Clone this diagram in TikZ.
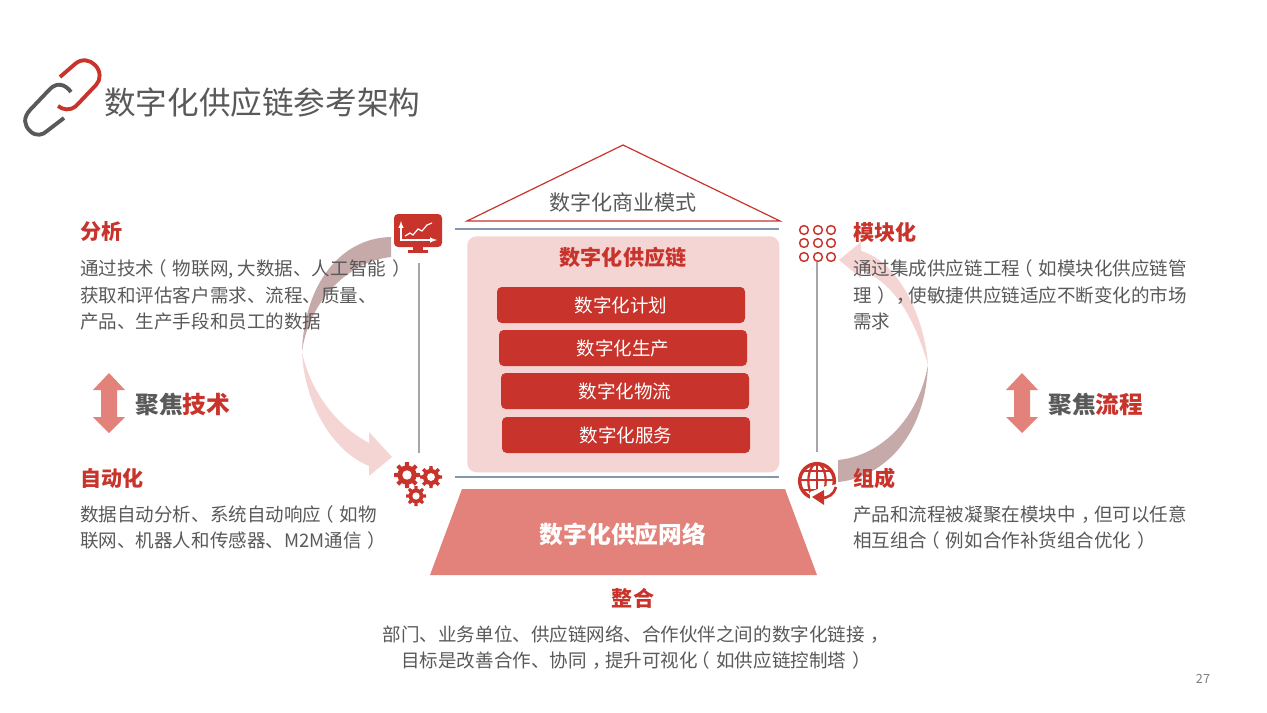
\documentclass[tikz,border=0pt]{standalone}
\usepackage{fontspec}
\setmainfont{Noto Sans CJK SC}
\usetikzlibrary{calc,positioning,arrows}
\definecolor{dred}{RGB}{200, 52, 43}
\definecolor{lred}{RGB}{245, 213, 212}
\definecolor{mred}{RGB}{226, 130, 122}
\definecolor{drose}{RGB}{198, 169, 169}
\definecolor{dgrey}{RGB}{89, 89, 89}
\definecolor{sepblue}{RGB}{132, 151, 176}
\definecolor{sepgrey}{RGB}{166, 166, 166}
\tikzstyle{heading} = [anchor=west, inner sep=0pt, text=dred, font=\fontsize{15.8pt}{19pt}\selectfont\bfseries]
\tikzstyle{bodytext} = [anchor=west, inner sep=0pt, text=dgrey, align=left, font=\fontsize{13.9pt}{19.9pt}\selectfont]
\tikzstyle{focus} = [anchor=west, inner sep=0pt, text=dgrey, font=\fontsize{17.8pt}{21pt}\selectfont\bfseries]
\tikzstyle{layer} = [fill=dred, rounded corners=3.5pt, inner sep=0pt, minimum width=186pt, minimum height=27pt,
  text=white, font=\fontsize{13.9pt}{17pt}\selectfont]
\tikzstyle{sep} = [draw=sepblue, line width=0.9pt]
\tikzstyle{vsep} = [draw=sepgrey, line width=0.9pt]
\tikzstyle{dots} = [draw=dred, line width=1.1pt, circle, inner sep=0pt, minimum size=6.6pt]
\newcommand{\lp}{\hspace{-.32em}（\hspace{.32em}}
\newcommand{\rp}{\hspace{.32em}）\hspace{-.32em}}
\newcommand{\cm}{\hspace{.32em}，\hspace{-.32em}}
\newcommand{\drawgear}[3]{
  \fill [dred] (#1,#2) circle ({0.74*#3});
  \foreach \a in {0,45,...,315}
    \fill [dred, shift={(#1,#2)}, rotate=\a] ({-0.2*#3},0) -- ({-0.15*#3},#3) -- ({0.15*#3},#3) -- ({0.2*#3},0) -- cycle;
  \fill [white] (#1,#2) circle ({0.36*#3});
}
\newcommand{\updown}[2]{
  \fill [mred] (#1,#2-30) -- (#1+16,#2-13) -- (#1+8,#2-13) -- (#1+8,#2+14) -- (#1+16,#2+14) -- (#1,#2+30)
    -- (#1-16,#2+14) -- (#1-8,#2+14) -- (#1-8,#2-13) -- (#1-16,#2-13) -- cycle;
}
\begin{document}
\begin{tikzpicture}[x=0.75pt,y=-0.75pt]
  \useasboundingbox (0,0) rectangle (1267,713);

  % link icon
  \draw [dgrey, line width=2.9pt] (71,92) .. controls (65,84) and (57,82) .. (50,89) -- (30,110)
    .. controls (23,118) and (24,125) .. (30,131) .. controls (36,137) and (43,135) .. (47,131) -- (64,118);
  \draw [dred, line width=2.9pt] (60,77) -- (75,64) .. controls (82,58) and (90,60) .. (95,65)
    .. controls (101,71) and (101,80) .. (96,85) -- (76,106) .. controls (70,111) and (63,110) .. (58,106);
  \node [anchor=west, inner sep=0pt, text=dgrey, font=\fontsize{23.7pt}{28pt}\selectfont] (title) at (104,102) {数字化供应链参考架构};

  % curved arrows
  \fill [drose] (391,237) .. controls (340,238) and (304,285) .. (302,352)
    .. controls (308,305) and (345,262) .. (391,257) -- cycle;
  \fill [lred] (302,352) .. controls (304,400) and (330,450) .. (369,466) -- (369,476) -- (392,457) -- (369,432) -- (369,443)
    .. controls (335,425) and (310,390) .. (302,352) -- cycle;
  \fill [lred] (928,365) .. controls (925,320) and (900,262) .. (861,251) -- (861,242) -- (839,260) -- (861,278) -- (861,270)
    .. controls (895,283) and (915,320) .. (928,365) -- cycle;
  \fill [drose] (928,365) .. controls (925,440) and (880,478) .. (838,482) -- (838,460)
    .. controls (880,456) and (918,420) .. (928,365) -- cycle;

  % roof
  \node [inner sep=0pt, text=dgrey, font=\fontsize{15.8pt}{19pt}\selectfont] (roof) at (623,202) {数字化商业模式};
  \draw [dred, line width=0.9pt] (623,145) -- (780,221) -- (467,221) -- cycle;

  % separators
  \coordinate (topL) at (455,229);
  \coordinate (topR) at (779,229);
  \coordinate (botL) at (455,477);
  \coordinate (botR) at (779,477);
  \path [sep] (topL) -- (topR);
  \path [sep] (botL) -- (botR);
  \coordinate (leftT) at (419,263);
  \coordinate (leftB) at (419,453);
  \coordinate (rightT) at (817,262);
  \coordinate (rightB) at (817,452);
  \path [vsep] (leftT) -- (leftB);
  \path [vsep] (rightT) -- (rightB);

  % core box
  \node [fill=lred, rounded corners=7pt, inner sep=0pt, minimum width=234pt, minimum height=177pt, anchor=north west] (core) at (467,236) {};
  \node [inner sep=0pt, text=dred, font=\fontsize{15.8pt}{19pt}\selectfont\bfseries] (coretitle) at (623,257) {数字化供应链};
  \node [layer] (plan) at (621,305) {\raisebox{0.7pt}{数字化计划}};
  \node [layer] (prod) at (623,348) {\raisebox{0.7pt}{数字化生产}};
  \node [layer] (logi) at (625,391) {数字化物流};
  \node [layer] (serv) at (626,435) {\raisebox{0.7pt}{数字化服务}};

  % base
  \fill [mred] (462,489) -- (785,489) -- (817,575) -- (430,575) -- cycle;
  \node [inner sep=0pt, text=white, font=\fontsize{17.8pt}{21pt}\selectfont\bfseries] (base) at (623,534) {数字化供应网络};

  % monitor icon
  \fill [dred, rounded corners=3pt] (394,214) rectangle (442,247);
  \fill [dred] (413,247) rectangle (423,250);
  \fill [dred] (408,250) rectangle (428,253);
  \draw [white, line width=0.8pt, <->, >=latex] (401,221) -- (401,240) -- (437,240);
  \draw [white, line width=0.9pt] (405,236) -- (410,233) -- (413,235) -- (418,229) -- (422,231) -- (427,225) -- (432,223);

  % gear icon
  \drawgear{407}{475}{13}
  \drawgear{431}{477}{11}
  \drawgear{416}{496}{10}

  % dots icon
  \foreach \i in {804,818,831}
    \foreach \j in {230,243,257}
      \node [dots] (dot\i\j) at (\i,\j) {};

  % globe icon
  \draw [dred, line width=2.6pt] (817,481) circle (13pt);
  \draw [dred, line width=1.7pt] (817,463) -- (817,500);
  \draw [dred, line width=1.7pt] (817,481) ellipse (6.5pt and 13pt);
  \draw [dred, line width=1.7pt] (802,471) -- (832,471);
  \draw [dred, line width=1.7pt] (799,480) -- (835,480);
  \draw [dred, line width=1.7pt] (801,490) -- (833,490);
  \fill [white] (838,484) -- (826,486) -- (810,492) -- (810,506) -- (838,506) -- cycle;
  \draw [dred, line width=2pt] (836,487) .. controls (834,494) and (829,498) .. (821,498);
  \fill [dred] (824,490) -- (824,505) -- (812,497) -- cycle;

  % text left
  \node [heading] (ana) at (80,232) {分析};
  \node [bodytext] (anatext) at (80,295) {通过技术\lp 物联网, 大数据、人工智能\rp\\获取和评估客户需求、流程、质量、\\产品、生产手段和员工的数据};
  \updown{109}{403}
  \node [focus] (tech) at (135,404) {聚焦{\color{dred}技术}};
  \node [heading] (auto) at (80,478) {自动化};
  \node [bodytext] (autotext) at (80,527.5) {数据自动分析、系统自动响应\lp 如物\\联网、机器人和传感器、M2M通信\rp};

  % text right
  \node [heading] (modu) at (853,232) {模块化};
  \node [bodytext] (modutext) at (853,295) {通过集成供应链工程\lp 如模块化供应链管\\理\rp\cm 使敏捷供应链适应不断变化的市场\\需求};
  \updown{1022}{403}
  \node [focus] (flow) at (1048,404) {聚焦{\color{dred}流程}};
  \node [heading] (comp) at (853,478) {组成};
  \node [bodytext] (comptext) at (853,527.5) {产品和流程被凝聚在模块中\cm 但可以任意\\相互组合\lp 例如合作补货组合优化\rp};

  % text bottom
  \node [heading, anchor=center] (integ) at (633,598) {整合};
  \node [bodytext, anchor=center, align=center] (integtext) at (636,647.5) {部门、业务单位、供应链网络、合作伙伴之间的数字化链接\cm\\目标是改善合作、协同\cm 提升可视化\lp 如供应链控制塔\rp};
  \node [inner sep=0pt, text=gray, font=\fontsize{9.5pt}{11pt}\selectfont] (pagenum) at (1203,679) {27};
\end{tikzpicture}
\end{document}
